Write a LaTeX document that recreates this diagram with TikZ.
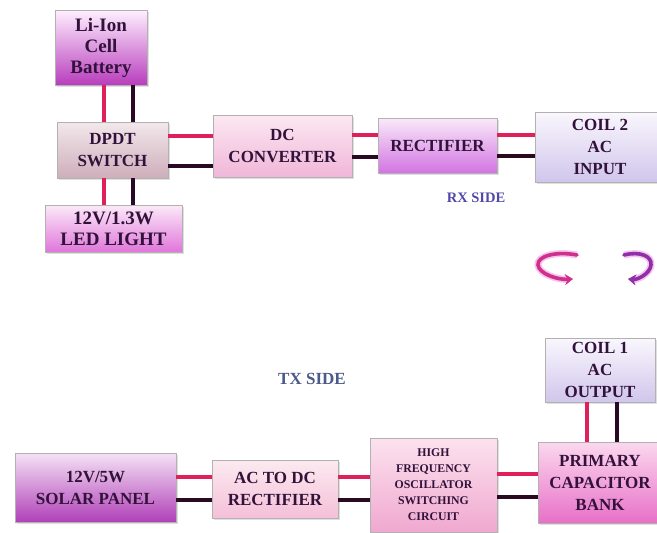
\documentclass[tikz,border=0pt]{standalone}
\usepackage{fontspec}
\setmainfont{Liberation Serif}
\usetikzlibrary{shadows,arrows.meta}

\definecolor{txt}{HTML}{32123A}
\definecolor{wirered}{HTML}{E0205A}
\definecolor{wireblk}{HTML}{2A0A22}
\definecolor{rxblue}{HTML}{5048A8}
\definecolor{txblue}{HTML}{4A5A8A}
\definecolor{glow}{HTML}{F6C4EE}

\newcommand{\blkfont}{\fontsize{17}{22}\selectfont\bfseries}
\newcommand{\bigfont}{\fontsize{19}{21}\selectfont\bfseries}
\newcommand{\smallfont}{\fontsize{11.8}{16}\selectfont\bfseries}

\begin{document}
\begin{tikzpicture}[x=1pt,y=-1pt]
	\tikzstyle{blk}=[draw=black!30, line width=0.5pt, rectangle, align=center, inner sep=0pt,
		text=txt, font=\blkfont,
		drop shadow={opacity=0.25, shadow xshift=2pt, shadow yshift=-2pt}]
	\tikzstyle{redw}=[draw=wirered, line width=3.2pt]
	\tikzstyle{blkw}=[draw=wireblk, line width=3.2pt]
	\tikzstyle{turn}=[line width=3.6pt, line cap=round,
		-{Stealth[length=8pt,width=11pt]},
		preaction={draw=glow, line width=7pt}]
	
	\useasboundingbox (0,0) rectangle (657,533);
	
	% RX side
	\node[blk, top color=white!85!magenta!40, bottom color={rgb,255:red,184;green,61;blue,189},
		minimum width=92pt, minimum height=75pt, font=\bigfont] (bat) at (101,47.5) {Li-Ion\\Cell\\Battery};
	\node[blk, top color={rgb,255:red,242;green,232;blue,236}, bottom color={rgb,255:red,206;green,174;blue,186},
		minimum width=111pt, minimum height=56pt] (dpdt) at (112.5,150) {DPDT\\SWITCH};
	\node[blk, top color={rgb,255:red,251;green,234;blue,248}, bottom color={rgb,255:red,224;green,118;blue,218},
		minimum width=137pt, minimum height=47pt, font=\bigfont] (led) at (113.5,228.5) {12V/1.3W\\LED LIGHT};
	\node[blk, top color={rgb,255:red,252;green,232;blue,242}, bottom color={rgb,255:red,240;green,182;blue,216},
		minimum width=139pt, minimum height=62pt] (dcc) at (282.5,146) {DC\\CONVERTER};
	\node[blk, top color={rgb,255:red,249;green,234;blue,249}, bottom color={rgb,255:red,210;green,116;blue,226},
		minimum width=119pt, minimum height=55pt] (rect) at (437.5,145.5) {RECTIFIER};
	\node[blk, top color={rgb,255:red,250;green,247;blue,253}, bottom color={rgb,255:red,208;green,198;blue,236},
		minimum width=130pt, minimum height=70pt] (coiltwo) at (600,147) {COIL 2\\AC\\INPUT};
	\node[text=rxblue, font=\fontsize{14.5}{17}\selectfont\bfseries] (rx) at (476,198) {RX SIDE};
	
	\draw[redw] ([xshift=3pt]bat.south) -- ([xshift=3pt]bat.south |- dpdt.north);
	\draw[blkw] ([xshift=32pt]bat.south) -- ([xshift=32pt]bat.south |- dpdt.north);
	\draw[redw] ([xshift=-8.5pt]dpdt.south) -- ([xshift=-8.5pt]dpdt.south |- led.north);
	\draw[blkw] ([xshift=20.5pt]dpdt.south) -- ([xshift=20.5pt]dpdt.south |- led.north);
	\draw[redw] ([yshift=14pt]dpdt.east) -- ([yshift=14pt]dpdt.east -| dcc.west);
	\draw[blkw] ([yshift=-16pt]dpdt.east) -- ([yshift=-16pt]dpdt.east -| dcc.west);
	\draw[redw] ([yshift=11pt]dcc.east) -- ([yshift=11pt]dcc.east -| rect.west);
	\draw[blkw] ([yshift=-11pt]dcc.east) -- ([yshift=-11pt]dcc.east -| rect.west);
	\draw[redw] ([yshift=10.5pt]rect.east) -- ([yshift=10.5pt]rect.east -| coiltwo.west);
	\draw[blkw] ([yshift=-10.5pt]rect.east) -- ([yshift=-10.5pt]rect.east -| coiltwo.west);
	
	% coupling arrows
	\draw[turn, draw={rgb,255:red,206;green,48;blue,140}]
		(577,255) .. controls (556,251) and (537,256) .. (538,265)
		.. controls (539,274) and (558,280) .. (573,279);
	\draw[turn, draw={rgb,255:red,144;green,48;blue,168}]
		(624,255) .. controls (640,251) and (652,256) .. (651,265)
		.. controls (650,274) and (637,280) .. (628,279);
	
	% TX side
	\node[text=txblue, font=\fontsize{17}{20}\selectfont\bfseries] (tx) at (312,379) {TX SIDE};
	\node[blk, top color={rgb,255:red,250;green,247;blue,253}, bottom color={rgb,255:red,208;green,198;blue,236},
		minimum width=110pt, minimum height=64pt] (coilone) at (600,370) {COIL 1\\AC\\OUTPUT};
	\node[blk, top color={rgb,255:red,245;green,226;blue,245}, bottom color={rgb,255:red,176;green,64;blue,184},
		minimum width=161pt, minimum height=69pt] (solar) at (95.5,487.5) {12V/5W\\SOLAR PANEL};
	\node[blk, top color={rgb,255:red,252;green,234;blue,240}, bottom color={rgb,255:red,244;green,192;blue,216},
		minimum width=126pt, minimum height=58pt] (acdc) at (275,489) {AC TO DC\\RECTIFIER};
	\node[blk, top color={rgb,255:red,252;green,226;blue,238}, bottom color={rgb,255:red,240;green,168;blue,208},
		minimum width=127pt, minimum height=94pt, font=\smallfont] (osc) at (433.5,485)
		{HIGH\\FREQUENCY\\OSCILLATOR\\SWITCHING\\CIRCUIT};
	\node[blk, top color={rgb,255:red,251;green,216;blue,238}, bottom color={rgb,255:red,232;green,112;blue,200},
		minimum width=124pt, minimum height=81pt] (pcb) at (600,482.5) {PRIMARY\\CAPACITOR\\BANK};
	
	\draw[redw] ([yshift=10.5pt]solar.east) -- ([yshift=10.5pt]solar.east -| acdc.west);
	\draw[blkw] ([yshift=-12.5pt]solar.east) -- ([yshift=-12.5pt]solar.east -| acdc.west);
	\draw[redw] ([yshift=12pt]acdc.east) -- ([yshift=12pt]acdc.east -| osc.west);
	\draw[blkw] ([yshift=-11pt]acdc.east) -- ([yshift=-11pt]acdc.east -| osc.west);
	\draw[redw] ([yshift=11pt]osc.east) -- ([yshift=11pt]osc.east -| pcb.west);
	\draw[blkw] ([yshift=-12pt]osc.east) -- ([yshift=-12pt]osc.east -| pcb.west);
	\draw[redw] ([xshift=-13pt]coilone.south) -- ([xshift=-13pt]coilone.south |- pcb.north);
	\draw[blkw] ([xshift=17pt]coilone.south) -- ([xshift=17pt]coilone.south |- pcb.north);
\end{tikzpicture}
\end{document}
